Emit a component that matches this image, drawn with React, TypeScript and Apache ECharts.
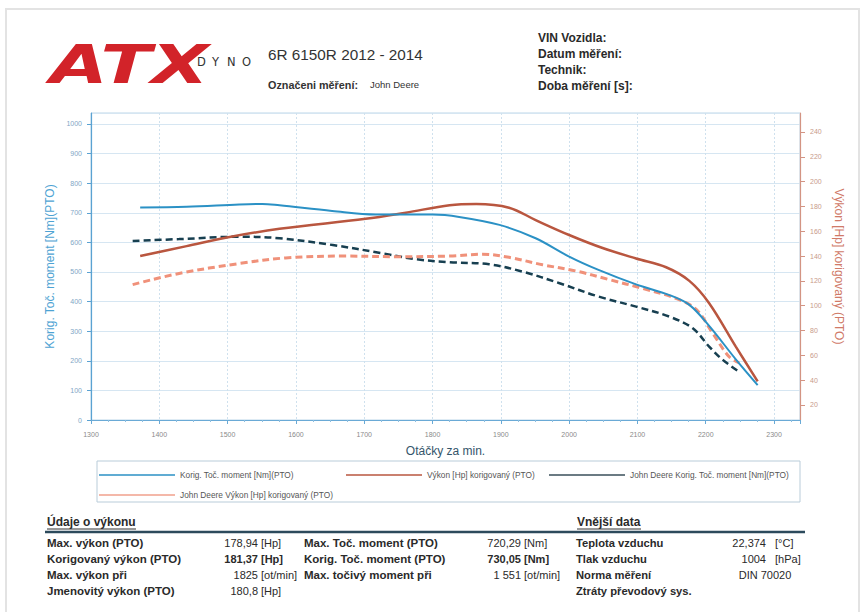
import React, { useEffect, useRef } from 'react';
import * as echarts from 'echarts';

// ---- Data ----
const seriesNames = [
  'Korig. Toč. moment [Nm](PTO)',
  'Výkon [Hp] korigovaný (PTO)',
  'John Deere Korig. Toč. moment [Nm](PTO)',
  'John Deere Výkon [Hp] korigovaný (PTO)',
];

const rpmTorque = [1372, 1440, 1517, 1551, 1576, 1653, 1717, 1800, 1839, 1898, 1951, 2000, 2043, 2098, 2147, 2176, 2205, 2244, 2276];
const torque = [718, 720, 728, 730, 725, 706, 694, 694, 686, 659, 614, 552, 507, 458, 422, 389, 318, 205, 118];

const rpmPower = [1372, 1440, 1499, 1576, 1702, 1761, 1825, 1864, 1912, 1951, 2000, 2049, 2098, 2142, 2176, 2205, 2244, 2276];
const power = [140, 148, 155, 162, 170, 175, 181, 182, 179, 169, 157, 146.5, 138, 131, 120, 102, 67, 39];

const rpmJdTorque = [1361, 1429, 1517, 1576, 1654, 1727, 1776, 1825, 1883, 1932, 1986, 2043, 2098, 2147, 2181, 2205, 2225, 2249];
const jdTorque = [605, 611, 619, 614, 591, 563, 543, 533, 526, 501, 462, 417, 383, 349, 310, 248, 203, 163];

const rpmJdPower = [1361, 1429, 1517, 1585, 1673, 1751, 1825, 1873, 1912, 1961, 2010, 2059, 2107, 2156, 2186, 2210, 2234, 2249];
const jdPower = [117, 126, 134, 138.5, 140, 139.5, 140, 141.5, 139, 133, 128, 121, 114, 106, 97, 78, 59, 54];

const rightTicks = [20, 40, 60, 80, 100, 120, 140, 160, 180, 200, 220, 240];

const perfLabels = ['Max. výkon (PTO)', 'Korigovaný výkon (PTO)', 'Max. výkon při', 'Jmenovitý výkon (PTO)'];
const perfValues = ['178,94', '181,37', '1825', '180,8'];
const perfUnits = ['[Hp]', '[Hp]', '[ot/min]', '[Hp]'];

const torqueLabels = ['Max. Toč. moment (PTO)', 'Korig. Toč. moment (PTO)', 'Max. točivý moment při'];
const torqueValues = ['720,29', '730,05', '1 551'];
const torqueUnits = ['[Nm]', '[Nm]', '[ot/min]'];

const extLabels = ['Teplota vzduchu', 'Tlak vzduchu', 'Norma měření', 'Ztráty převodový sys.'];
const extValues = ['22,374', '1004', '', ''];
const extUnits = ['[°C]', '[hPa]', '', ''];
const normValue = 'DIN 70020';

const headerRight = ['VIN Vozidla:', 'Datum měření:', 'Technik:', 'Doba měření [s]:'];

const FONT = '"Liberation Sans", Arial, sans-serif';
const TXT = '#2a2a2a';

function txt(text: string, x: number, y: number, opts: any = {}) {
  const align = opts.align || 'left';
  return {
    type: 'text',
    x,
    y,
    silent: true,
    scaleX: opts.scaleX || 1,
    style: {
      text,
      fill: opts.fill || TXT,
      fontSize: opts.size || 11,
      fontWeight: opts.weight || 'normal',
      fontStyle: opts.style || 'normal',
      fontFamily: opts.family || FONT,
      textAlign: align,
      align,
      textVerticalAlign: 'middle',
      verticalAlign: 'middle',
    },
  };
}

export default function App() {
  const ref = useRef<HTMLDivElement>(null);

  useEffect(() => {
    if (!ref.current) return;
    const chart = echarts.init(ref.current, undefined, { renderer: 'svg' });

    const graphics: any[] = [];
    // page border
    graphics.push({
      type: 'rect',
      silent: true,
      shape: { x: 6, y: 9, width: 853, height: 640 },
      style: { fill: 'none', stroke: '#e3e3e3', lineWidth: 2 },
    });
    // logo
    graphics.push(
      txt('ATX', 50, 64, {
        size: 54,
        weight: 900,
        style: 'italic',
        family: '"DejaVu Sans", sans-serif',
        scaleX: 1.38,
        fill: '#d22329',
      })
    );
    'DYNO'.split('').forEach((ch, i) => {
      graphics.push(txt(ch, 197 + i * 15, 62, { size: 11.5, fill: '#333', family: '"DejaVu Sans", sans-serif' }));
    });
    // header texts
    graphics.push(txt('6R 6150R 2012 - 2014', 268, 54, { size: 15.3, fill: '#333' }));
    graphics.push(txt('Označeni měření:', 268, 85, { size: 10.8, weight: 'bold', fill: '#333' }));
    graphics.push(txt('John Deere', 370, 84, { size: 9.5, fill: '#333' }));
    headerRight.forEach((t, i) => {
      graphics.push(txt(t, 538, 38 + i * 16, { size: 12, weight: 'bold', fill: '#2a2a2a' }));
    });

    // legend box
    graphics.push({
      type: 'rect',
      silent: true,
      shape: { x: 97, y: 461, width: 703, height: 41 },
      style: { fill: 'none', stroke: '#b9ccd9', lineWidth: 1 },
    });

    // table
    graphics.push(txt('Údaje o výkonu', 47, 522, { size: 12, weight: 'bold' }));
    graphics.push(txt('Vnější data', 577, 522, { size: 12, weight: 'bold' }));
    graphics.push({ type: 'line', silent: true, shape: { x1: 47, y1: 529, x2: 136, y2: 529 }, style: { stroke: '#333', lineWidth: 1 } });
    graphics.push({ type: 'line', silent: true, shape: { x1: 577, y1: 529, x2: 641, y2: 529 }, style: { stroke: '#333', lineWidth: 1 } });
    graphics.push({ type: 'line', silent: true, shape: { x1: 45, y1: 532, x2: 805, y2: 532 }, style: { stroke: '#2c4a5c', lineWidth: 2.5 } });

    const rowY = (i: number) => 543 + i * 16;
    perfLabels.forEach((l, i) => {
      graphics.push(txt(l, 47, rowY(i), { size: 11.5, weight: 'bold' }));
      const w = i === 1 ? 'bold' : 'normal';
      graphics.push(txt(perfValues[i], 258, rowY(i), { size: 11, align: 'right', weight: w }));
      graphics.push(txt(perfUnits[i], 261, rowY(i), { size: 11, weight: w }));
    });
    torqueLabels.forEach((l, i) => {
      graphics.push(txt(l, 304, rowY(i), { size: 11.5, weight: 'bold' }));
      const w = i === 1 ? 'bold' : 'normal';
      graphics.push(txt(torqueValues[i], 521, rowY(i), { size: 11, align: 'right', weight: w }));
      graphics.push(txt(torqueUnits[i], 524, rowY(i), { size: 11, weight: w }));
    });
    extLabels.forEach((l, i) => {
      graphics.push(txt(l, 576, rowY(i), { size: 11.2, weight: 'bold' }));
      if (extValues[i]) graphics.push(txt(extValues[i], 766, rowY(i), { size: 11, align: 'right' }));
      if (extUnits[i]) graphics.push(txt(extUnits[i], 775, rowY(i), { size: 11 }));
    });
    graphics.push(txt(normValue, 765, rowY(2), { size: 11, align: 'center' }));

    const legendPos = [
      [99, 471],
      [346, 471],
      [549, 471],
      [99, 491],
    ];

    const mk = (xs: number[], ys: number[]) => xs.map((x, i) => [x, ys[i]]);

    const option: any = {
      animation: false,
      backgroundColor: '#fff',
      textStyle: { fontFamily: FONT },
      grid: {
        left: 91,
        top: 113,
        width: 709,
        height: 307,
        show: true,
        borderColor: '#bcd6e8',
        borderWidth: 1,
        backgroundColor: 'transparent',
      },
      legend: seriesNames.map((n, i) => ({
        data: [n],
        left: legendPos[i][0],
        top: legendPos[i][1],
        padding: 0,
        icon: 'rect',
        itemWidth: 76,
        itemHeight: 1.3,
        itemGap: 5,
        selectedMode: false,
        textStyle: { fontSize: 8.3, color: '#555', fontFamily: FONT },
      })),
      xAxis: {
        type: 'value',
        min: 1300,
        max: 2338,
        interval: 100,
        name: 'Otáčky za min.',
        nameLocation: 'middle',
        nameGap: 25,
        nameTextStyle: { fontSize: 12, color: '#34556a', fontFamily: FONT },
        axisLine: { show: true, onZero: false, lineStyle: { color: '#6aaad6', width: 1 } },
        axisTick: { show: true, length: 4, lineStyle: { color: '#6aaad6' } },
        minorTick: { show: true, splitNumber: 4, length: 2, lineStyle: { color: '#8fbfe0' } },
        axisLabel: {
          fontSize: 7,
          color: '#8a8a8a',
          margin: 11,
          showMaxLabel: false,
          formatter: (v: number) => (v % 100 === 0 ? String(v) : ''),
        },
        splitLine: { show: true, lineStyle: { color: '#cfe1ee', type: [2, 2], width: 1 } },
      },
      yAxis: [
        {
          type: 'value',
          position: 'left',
          min: 0,
          max: 1037,
          interval: 100,
          name: 'Korig. Toč. moment [Nm](PTO)',
          nameLocation: 'middle',
          nameRotate: 90,
          nameGap: 33,
          nameTextStyle: { fontSize: 12, color: '#4ea3d3', fontFamily: FONT },
          axisLine: { show: true, lineStyle: { color: '#5aa2d2', width: 1.2 } },
          axisTick: { show: true, length: 4, lineStyle: { color: '#5aa2d2' } },
          axisLabel: {
            fontSize: 7,
            color: '#7ea6c6',
            margin: 9,
            showMaxLabel: false,
            formatter: (v: number) => (v % 100 === 0 ? String(v) : ''),
          },
          splitLine: { show: true, lineStyle: { color: '#d6e6f2', width: 1 } },
        },
        {
          type: 'value',
          position: 'right',
          min: 7.9,
          max: 255.3,
          name: 'Výkon [Hp] korigovaný (PTO)',
          nameLocation: 'middle',
          nameRotate: -90,
          nameGap: 31,
          nameTextStyle: { fontSize: 12, color: '#d07a68', fontFamily: FONT },
          axisLine: { show: true, lineStyle: { color: '#d39483', width: 1.2 } },
          axisTick: { show: true, length: 5, customValues: rightTicks, lineStyle: { color: '#d39483' } },
          axisLabel: {
            fontSize: 7,
            color: '#c89a8a',
            margin: 10,
            customValues: rightTicks,
          },
          splitLine: { show: false },
        },
      ],
      series: [
        {
          name: seriesNames[0],
          type: 'line',
          yAxisIndex: 0,
          smooth: 0.35,
          symbol: 'none',
          silent: true,
          data: mk(rpmTorque, torque),
          lineStyle: { color: '#2b91c5', width: 2 },
          itemStyle: { color: '#2b91c5' },
          z: 4,
        },
        {
          name: seriesNames[1],
          type: 'line',
          yAxisIndex: 1,
          smooth: 0.35,
          symbol: 'none',
          silent: true,
          data: mk(rpmPower, power),
          lineStyle: { color: '#b9563f', width: 2.5 },
          itemStyle: { color: '#b9563f' },
          z: 3,
        },
        {
          name: seriesNames[2],
          type: 'line',
          yAxisIndex: 0,
          smooth: 0.35,
          symbol: 'none',
          silent: true,
          data: mk(rpmJdTorque, jdTorque),
          lineStyle: { color: '#173f50', width: 2.5, type: [7, 4] },
          itemStyle: { color: '#3a4f5a' },
          z: 2,
        },
        {
          name: seriesNames[3],
          type: 'line',
          yAxisIndex: 1,
          smooth: 0.35,
          symbol: 'none',
          silent: true,
          data: mk(rpmJdPower, jdPower),
          lineStyle: { color: '#f0917a', width: 3, type: [7, 4] },
          itemStyle: { color: '#f0a08c' },
          z: 2,
        },
      ],
      graphic: { elements: graphics },
    };

    chart.setOption(option);
    return () => chart.dispose();
  }, []);

  return (
    <div
      ref={ref}
      style={{ position: 'absolute', left: 0, top: 0, width: 865, height: 612, background: '#fff' }}
    />
  );
}
